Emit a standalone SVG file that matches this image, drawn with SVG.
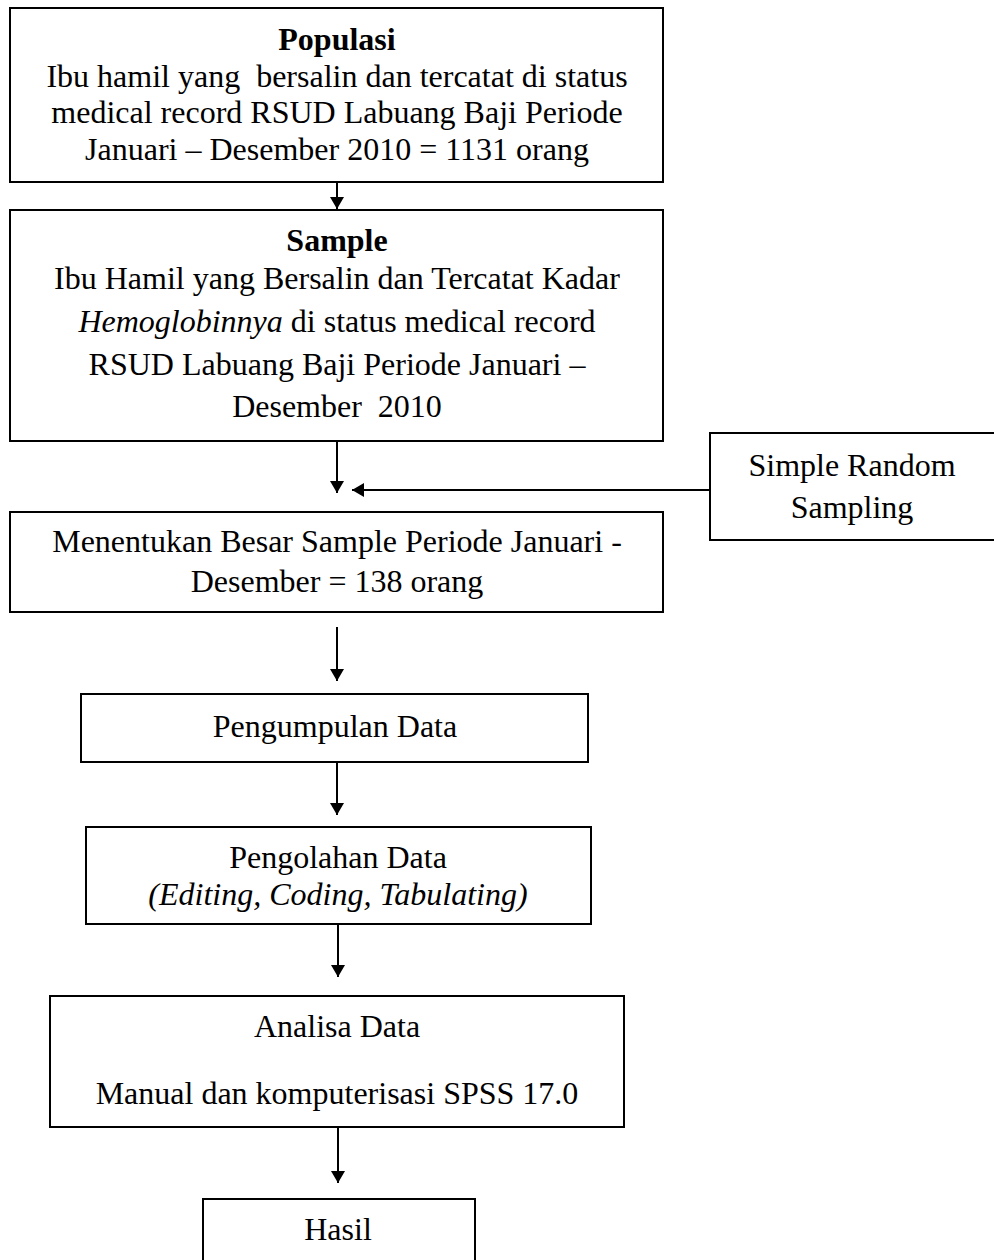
<svg xmlns="http://www.w3.org/2000/svg" width="994" height="1260" viewBox="0 0 994 1260">
<defs>
<style>
.box{fill:#fff;stroke:#000;stroke-width:2}
.t{font-family:"Liberation Serif","Times New Roman",serif;font-size:32px;fill:#000;text-anchor:middle;white-space:pre}
.b{font-weight:bold}
.i{font-style:italic}
.c{stroke:#000;stroke-width:2;fill:none}
</style>
<marker id="ah" viewBox="0 0 12 14" refX="12" refY="7" markerWidth="12" markerHeight="14" markerUnits="userSpaceOnUse" orient="auto">
<path d="M0,0 L12,7 L0,14 Z" fill="#000"/>
</marker>
</defs>
<rect width="994" height="1260" fill="#fff"/>
<g id="populasi">
<rect class="box" x="10" y="8" width="653" height="174"/>
<text class="t b" x="337" y="50">Populasi</text>
<text class="t" x="337" y="87" xml:space="preserve">Ibu hamil yang  bersalin dan tercatat di status</text>
<text class="t" x="337" y="123">medical record RSUD Labuang Baji Periode</text>
<text class="t" x="337" y="160">Januari – Desember 2010 = 1131 orang</text>
</g>
<g id="sample">
<rect class="box" x="10" y="210" width="653" height="231"/>
<text class="t b" x="337" y="251">Sample</text>
<text class="t" x="337" y="289">Ibu Hamil yang Bersalin dan Tercatat Kadar</text>
<text class="t" x="337" y="332"><tspan class="i">Hemoglobinnya</tspan> di status medical record</text>
<text class="t" x="337" y="375">RSUD Labuang Baji Periode Januari –</text>
<text class="t" x="337" y="417" xml:space="preserve">Desember  2010</text>
</g>
<g id="random">
<rect class="box" x="710" y="433" width="290" height="107"/>
<text class="t" x="852" y="476">Simple Random</text>
<text class="t" x="852" y="518">Sampling</text>
</g>
<g id="besar">
<rect class="box" x="10" y="512" width="653" height="100"/>
<text class="t" x="337" y="552">Menentukan Besar Sample Periode Januari -</text>
<text class="t" x="337" y="592">Desember = 138 orang</text>
</g>
<g id="pengumpulan">
<rect class="box" x="81" y="694" width="507" height="68"/>
<text class="t" x="335" y="737">Pengumpulan Data</text>
</g>
<g id="pengolahan">
<rect class="box" x="86" y="827" width="505" height="97"/>
<text class="t" x="338" y="868">Pengolahan Data</text>
<text class="t i" x="338" y="905">(Editing, Coding, Tabulating)</text>
</g>
<g id="analisa">
<rect class="box" x="50" y="996" width="574" height="131"/>
<text class="t" x="337" y="1037">Analisa Data</text>
<text class="t" x="337" y="1104">Manual dan komputerisasi SPSS 17.0</text>
</g>
<g id="hasil">
<rect class="box" x="203" y="1199" width="272" height="70"/>
<text class="t" x="338" y="1240">Hasil</text>
</g>
<g id="connectors">
<line class="c" x1="337" y1="182" x2="337" y2="209" marker-end="url(#ah)"/>
<line class="c" x1="337" y1="441" x2="337" y2="493" marker-end="url(#ah)"/>
<line class="c" x1="710" y1="490" x2="352" y2="490" marker-end="url(#ah)"/>
<line class="c" x1="337" y1="627" x2="337" y2="681" marker-end="url(#ah)"/>
<line class="c" x1="337" y1="762" x2="337" y2="815" marker-end="url(#ah)"/>
<line class="c" x1="338" y1="924" x2="338" y2="977" marker-end="url(#ah)"/>
<line class="c" x1="338" y1="1127" x2="338" y2="1183" marker-end="url(#ah)"/>
</g>
</svg>
